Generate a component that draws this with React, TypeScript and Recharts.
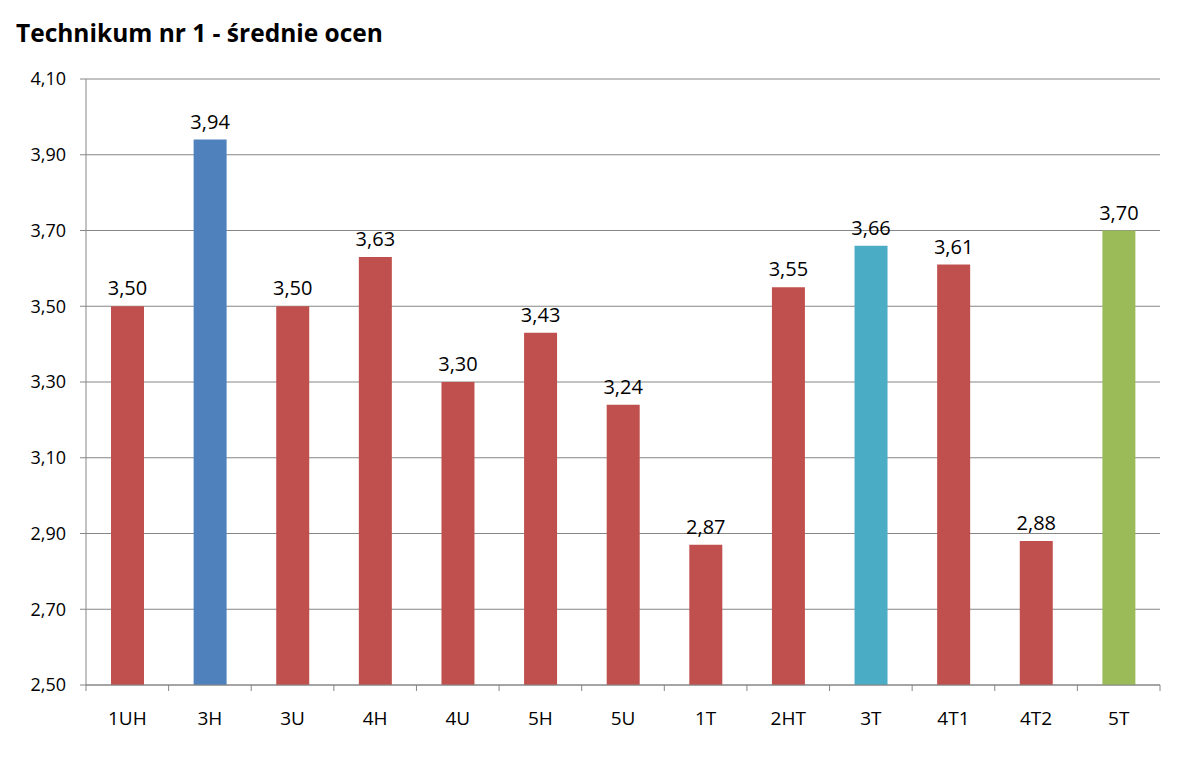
import { BarChart, Bar, XAxis, YAxis, CartesianGrid, Cell, LabelList } from "recharts";

const classes = ["1UH", "3H", "3U", "4H", "4U", "5H", "5U", "1T", "2HT", "3T", "4T1", "4T2", "5T"];
const averages = [3.5, 3.94, 3.5, 3.63, 3.3, 3.43, 3.24, 2.87, 3.55, 3.66, 3.61, 2.88, 3.7];
const barColors = [
  "#C0504D", "#4F81BD", "#C0504D", "#C0504D", "#C0504D", "#C0504D", "#C0504D",
  "#C0504D", "#C0504D", "#4BACC6", "#C0504D", "#C0504D", "#9BBB59",
];
const yTicks = [2.5, 2.7, 2.9, 3.1, 3.3, 3.5, 3.7, 3.9, 4.1];

const data = classes.map((name, i) => ({ name, value: averages[i] }));

const W = 1200;
const H = 784;
const X_H = 30;
const M = { top: 79, right: 40, bottom: 99 - X_H, left: 0 };
const Y_W = 86;
const band = (W - M.left - M.right - Y_W) / classes.length;
const fmt = (v: number) => v.toFixed(2).replace(".", ",");
const font = "'Open Sans', sans-serif";

function XTick(props: any) {
  const { x, payload, index } = props;
  const axisY = H - M.bottom - X_H;
  const last = index === classes.length - 1;
  return (
    <g>
      <line x1={x - band / 2} x2={x - band / 2} y1={axisY} y2={axisY + 6} stroke="#868686" />
      {last && <line x1={x + band / 2} x2={x + band / 2} y1={axisY} y2={axisY + 6} stroke="#868686" />}
      <text x={x} y={axisY + 40} textAnchor="middle" fill="#000" fontSize={19} fontFamily={font}>
        {payload.value}
      </text>
    </g>
  );
}

export default function App() {
  return (
    <div style={{ position: "absolute", left: 0, top: 0, width: W, height: H, background: "#fff" }}>
      <div
        style={{
          position: "absolute",
          left: 16,
          top: 16,
          fontFamily: font,
          fontWeight: 700,
          fontSize: 24.5,
          color: "#000",
        }}
      >
        Technikum nr 1 - średnie ocen
      </div>
      <BarChart width={W} height={H} data={data} margin={M} barSize={33}>
        <CartesianGrid vertical={false} stroke="#868686" />
        <XAxis
          dataKey="name"
          height={X_H}
          stroke="#868686"
          tickLine={false}
          interval={0}
          tick={<XTick />}
        />
        <YAxis
          width={Y_W}
          domain={[2.5, 4.1]}
          ticks={yTicks}
          tickFormatter={fmt}
          stroke="#868686"
          tickSize={6}
          tickMargin={14}
          tick={{ fill: "#000", fontSize: 18, fontFamily: font }}
        />
        <Bar dataKey="value" isAnimationActive={false}>
          {data.map((d, i) => (
            <Cell key={d.name} fill={barColors[i]} />
          ))}
          <LabelList
            dataKey="value"
            position="top"
            offset={11}
            formatter={(v: any) => fmt(Number(v))}
            fill="#000"
            fontSize={20}
            fontFamily={font}
          />
        </Bar>
      </BarChart>
    </div>
  );
}
